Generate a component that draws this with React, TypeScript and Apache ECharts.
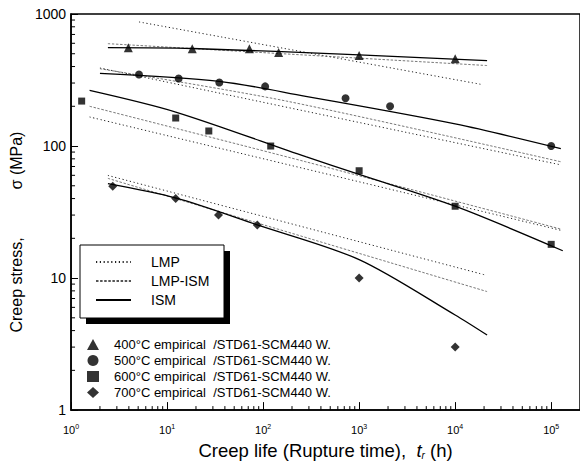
import React, { useEffect, useRef } from 'react';
import * as echarts from 'echarts';

const FONT = '"Liberation Sans", Arial, Helvetica, sans-serif';

// Axis ticks
const xTickExponents = [0, 1, 2, 3, 4, 5];
const yTickLabels = ['1', '10', '100', '1000'];
const minorMultipliers = [2, 3, 4, 5, 6, 7, 8, 9];
const X_MAX = 5.3;
const Y_MAX = 3;

// Empirical data (rupture time h, stress MPa)
const name400 = '400°C empirical  /STD61-SCM440 W.';
const name500 = '500°C empirical  /STD61-SCM440 W.';
const name600 = '600°C empirical  /STD61-SCM440 W.';
const name700 = '700°C empirical  /STD61-SCM440 W.';

const life400 = [3.95, 18.3, 72, 145, 1000, 10000];
const stress400 = [556, 546, 546, 510, 484, 459];
const life500 = [5.1, 13.2, 35, 105, 722, 2100, 100000];
const stress500 = [348, 325, 303, 283, 230, 200, 100];
const life600 = [1.29, 12.3, 27.2, 120, 1000, 10000, 100000];
const stress600 = [219, 163, 130, 100, 65, 35, 18];
const life700 = [2.72, 12.3, 34.3, 87, 1000, 10000];
const stress700 = [49.5, 40, 30, 25.2, 10, 3.0];

// Model curves
const ismLife400 = [2.42, 18.3, 1000, 21500];
const ismStress400 = [556, 548, 490, 444];
const lmpIsmLife400 = [2.42, 21500];
const lmpIsmStress400 = [596, 407];
const lmpLife400 = [5.1, 18700];
const lmpStress400 = [871, 293];

const ismLife500 = [2, 35, 278, 10000, 126000];
const ismStress500 = [355, 309, 238, 147, 95.5];
const lmpIsmLife500 = [2, 175, 126000];
const lmpIsmStress500 = [385, 219, 76];
const lmpLife500 = [2, 126000];
const lmpStress500 = [390, 72];

const ismLife600 = [1.56, 12.3, 278, 1000, 10000, 132000];
const ismStress600 = [264, 181, 83, 61, 35, 16.1];
const lmpIsmLife600 = [1.56, 278, 126000];
const lmpIsmStress600 = [200, 76, 23.5];
const lmpLife600 = [1.56, 126000];
const lmpStress600 = [166, 23];

const ismLife700 = [2.42, 12.3, 87, 1000, 10000, 21500];
const ismStress700 = [52, 40.5, 25.3, 13.8, 5.25, 3.7];
const lmpIsmLife700 = [2.42, 21500];
const lmpIsmStress700 = [56.9, 7.9];
const lmpLife700 = [2.42, 20100];
const lmpStress700 = [59.9, 10.6];

const lg = (v: number) => Math.log10(v);
const pts = (xs: number[], ys: number[]) => xs.map((x, i) => [lg(x), lg(ys[i])]);

const lmpStyle = { color: '#222', width: 1, type: [1.2, 2.6] as any };
const lmpIsmStyle = { color: '#555', width: 0.8, type: [2.5, 1.6] as any };
const ismStyle = { color: '#000', width: 1.3, type: 'solid' as any };

function lineSeries(name: string, xs: number[], ys: number[], style: any) {
  return {
    type: 'line',
    name,
    data: pts(xs, ys),
    symbol: 'none',
    smooth: 0.3,
    lineStyle: style,
    itemStyle: { color: 'rgba(0,0,0,0)', borderWidth: 0 },
    silent: true,
    z: 3,
  };
}

function scatterSeries(name: string, xs: number[], ys: number[], symbol: string, size: number) {
  return {
    type: 'scatter',
    name,
    data: pts(xs, ys),
    symbol,
    symbolSize: size,
    itemStyle: { color: '#000' },
    z: 4,
  };
}

const xMinor: number[] = [];
xTickExponents.forEach((n) => minorMultipliers.forEach((k) => {
  const v = lg(k * Math.pow(10, n));
  if (v < X_MAX) xMinor.push(v);
}));
const yMinor: number[] = [];
[0, 1, 2].forEach((n) => minorMultipliers.forEach((k) => yMinor.push(lg(k * Math.pow(10, n)))));

export default function App() {
  const ref = useRef<HTMLDivElement>(null);
  useEffect(() => {
    if (!ref.current) return;
    const chart = echarts.init(ref.current, undefined, { renderer: 'svg' });
    const option: any = {
      animation: false,
      backgroundColor: '#fff',
      textStyle: { fontFamily: FONT },
      grid: {
        left: 58, top: 14, width: X_MAX * 99, height: 400,
        show: true, borderColor: '#000', borderWidth: 1.5, backgroundColor: 'transparent',
      },
      xAxis: {
        type: 'value', min: 0, max: X_MAX, interval: 1,
        axisLine: { show: true, lineStyle: { color: '#000', width: 1.5 } },
        axisTick: { show: true, inside: true, length: 8, lineStyle: { color: '#000', width: 1 } },
        splitLine: { show: false },
        axisLabel: {
          margin: 13,
          showMaxLabel: false,
          formatter: (v: number) => (Number.isInteger(v) && xTickExponents.includes(v) ? `{b|10}{s|${v}}` : ''),
          rich: {
            b: { fontSize: 11, fontFamily: FONT, color: '#000' },
            s: { fontSize: 7, fontFamily: FONT, color: '#000', padding: [0, 0, 7, 0] },
          },
        },
        name: '{n|Creep life (Rupture time),  }{t|t}{r|r}{n| (h)}',
        nameLocation: 'middle',
        nameGap: 28,
        nameTextStyle: {
          rich: {
            n: { fontSize: 18.5, fontFamily: FONT, color: '#000' },
            t: { fontSize: 18.5, fontFamily: FONT, color: '#000', fontStyle: 'italic' },
            r: { fontSize: 10, fontFamily: FONT, color: '#000', fontStyle: 'italic', padding: [10, 0, 0, 0] },
          },
        },
      },
      yAxis: {
        type: 'value', min: 0, max: Y_MAX, interval: 1,
        axisLine: { show: true, lineStyle: { color: '#000', width: 1.5 } },
        axisTick: { show: true, inside: true, length: 7, lineStyle: { color: '#000', width: 1 } },
        splitLine: { show: false },
        axisLabel: {
          margin: 5,
          color: '#000',
          fontSize: 14,
          fontFamily: FONT,
          formatter: (v: number) => yTickLabels[v] ?? '',
        },
        name: '{a|Creep stress,}{g| }{b|σ (MPa)}',
        nameLocation: 'middle',
        nameGap: 26,
        nameTextStyle: {
          padding: [0, 40, 0, 0],
          rich: {
            a: { fontSize: 16, fontFamily: FONT, color: '#000' },
            g: { fontSize: 16, width: 48 },
            b: { fontSize: 16, fontFamily: FONT, color: '#000' },
          },
        },
      },
      legend: [
        {
          data: ['LMP', 'LMP-ISM', 'ISM'],
          orient: 'vertical', left: 95, top: 255, padding: 0,
          itemWidth: 35, itemHeight: 14, itemGap: 5,
          selectedMode: false, z: 10,
          itemStyle: { color: 'rgba(0,0,0,0)', borderWidth: 0, opacity: 0 },
          textStyle: { fontSize: 14, fontFamily: FONT, color: '#000', padding: [0, 0, 0, 15] },
        },
        {
          data: [name400, name500, name600, name700],
          orient: 'vertical', left: 87, top: 338, padding: 0,
          itemWidth: 12, itemHeight: 11, itemGap: 3,
          selectedMode: false, z: 10,
          textStyle: { fontSize: 13, fontFamily: FONT, color: '#000', padding: [0, 0, 0, 10] },
        },
      ],
      graphic: [
        { type: 'rect', z: 8, shape: { x: 86, y: 251, width: 144, height: 73 }, style: { fill: '#000' } },
        { type: 'rect', z: 9, shape: { x: 80, y: 245, width: 144, height: 73 }, style: { fill: '#fff', stroke: '#000', lineWidth: 1 } },
      ],
      series: [
        lineSeries('LMP', lmpLife400, lmpStress400, lmpStyle),
        lineSeries('LMP-ISM', lmpIsmLife400, lmpIsmStress400, lmpIsmStyle),
        lineSeries('ISM', ismLife400, ismStress400, ismStyle),
        lineSeries('LMP', lmpLife500, lmpStress500, lmpStyle),
        lineSeries('LMP-ISM', lmpIsmLife500, lmpIsmStress500, lmpIsmStyle),
        lineSeries('ISM', ismLife500, ismStress500, ismStyle),
        lineSeries('LMP', lmpLife600, lmpStress600, lmpStyle),
        lineSeries('LMP-ISM', lmpIsmLife600, lmpIsmStress600, lmpIsmStyle),
        lineSeries('ISM', ismLife600, ismStress600, ismStyle),
        lineSeries('LMP', lmpLife700, lmpStress700, lmpStyle),
        lineSeries('LMP-ISM', lmpIsmLife700, lmpIsmStress700, lmpIsmStyle),
        lineSeries('ISM', ismLife700, ismStress700, ismStyle),
        scatterSeries(name400, life400, stress400, 'triangle', 9),
        scatterSeries(name500, life500, stress500, 'circle', 8),
        scatterSeries(name600, life600, stress600, 'rect', 7),
        scatterSeries(name700, life700, stress700, 'diamond', 9),
        {
          type: 'custom', name: 'xMinorTicks', silent: true, clip: false, z: 5,
          data: xMinor.map((v) => [v, 0]),
          renderItem: (_p: any, api: any) => {
            const c = api.coord([api.value(0), 0]);
            return { type: 'line', shape: { x1: c[0], y1: c[1], x2: c[0], y2: c[1] - 4 }, style: { stroke: '#000', lineWidth: 1 } };
          },
        },
        {
          type: 'custom', name: 'yMinorTicks', silent: true, clip: false, z: 5,
          data: yMinor.map((v) => [0, v]),
          renderItem: (_p: any, api: any) => {
            const c = api.coord([0, api.value(1)]);
            return { type: 'line', shape: { x1: c[0], y1: c[1], x2: c[0] + 4, y2: c[1] }, style: { stroke: '#000', lineWidth: 1 } };
          },
        },
      ],
    };
    chart.setOption(option);
    return () => chart.dispose();
  }, []);
  return <div ref={ref} style={{ position: 'absolute', left: 0, top: 0, width: 580, height: 465 }} />;
}
